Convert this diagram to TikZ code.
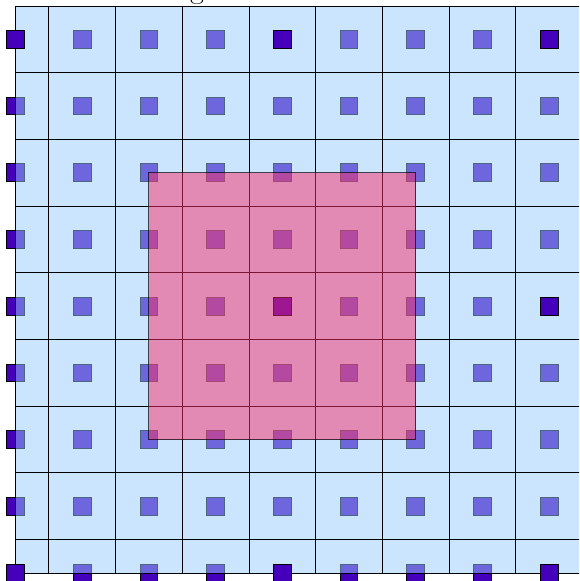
\documentclass[tikz,border=0pt]{standalone}
\definecolor{tileblue}{RGB}{153,204,255}
\definecolor{ptdark}{RGB}{68,0,187}
\definecolor{pinkfill}{RGB}{250,45,105}
\begin{document}
\begin{tikzpicture}[x=1pt,y=1pt,
  ptsq/.style={fill=ptdark,draw=black,line width=0.9pt},
  gridline/.style={draw=black,line width=0.9pt},
  tile/.style={fill=tileblue,fill opacity=0.5},
  pinksq/.style={fill=pinkfill,fill opacity=0.5,draw=black,draw opacity=0.7,line width=0.9pt}]
\useasboundingbox (0,0) rectangle (579,581);
\clip (0,0) rectangle (579,581);
% lattice points (under the tiles)
\foreach \c in {0,...,8}{
  \foreach \r in {0,...,8}{
    \pgfmathsetmacro\X{15.5+66.7*\c}
    \pgfmathsetmacro\Y{541.6-66.7*\r}
    \path[ptsq] (\X-8.85,\Y-8.85) rectangle (\X+8.85,\Y+8.85);
  }
}
% translucent tiles
\fill[tile] (15.3,7.7) rectangle (600,575);
\foreach \k in {0,...,7}{
  \pgfmathsetmacro\X{48.85+66.7*\k}
  \draw[gridline] (\X,7.7) -- (\X,575);
}
\draw[gridline] (15.3,7.7) -- (15.3,575);
\foreach \k in {0,...,8}{
  \pgfmathsetmacro\Y{575-66.7*\k}
  \draw[gridline] (15.3,\Y) -- (600,\Y);
}
\draw[gridline] (15.3,7.7) -- (600,7.7);
% coarse points on top
\foreach \c/\r in {0/0,4/0,8/0,8/4,4/4,0/8,4/8,8/8}{
  \pgfmathsetmacro\X{15.5+66.7*\c}
  \pgfmathsetmacro\Y{541.6-66.7*\r}
  \path[ptsq] (\X-8.85,\Y-8.85) rectangle (\X+8.85,\Y+8.85);
}
% pink region
\path[pinksq] (148.9,141.4) rectangle (415.7,408.2);
% clipped title
\node[anchor=base,inner sep=0pt,font=\fontsize{30}{34}\selectfont] (title) at (197,582.5) {g};
\end{tikzpicture}
\end{document}
